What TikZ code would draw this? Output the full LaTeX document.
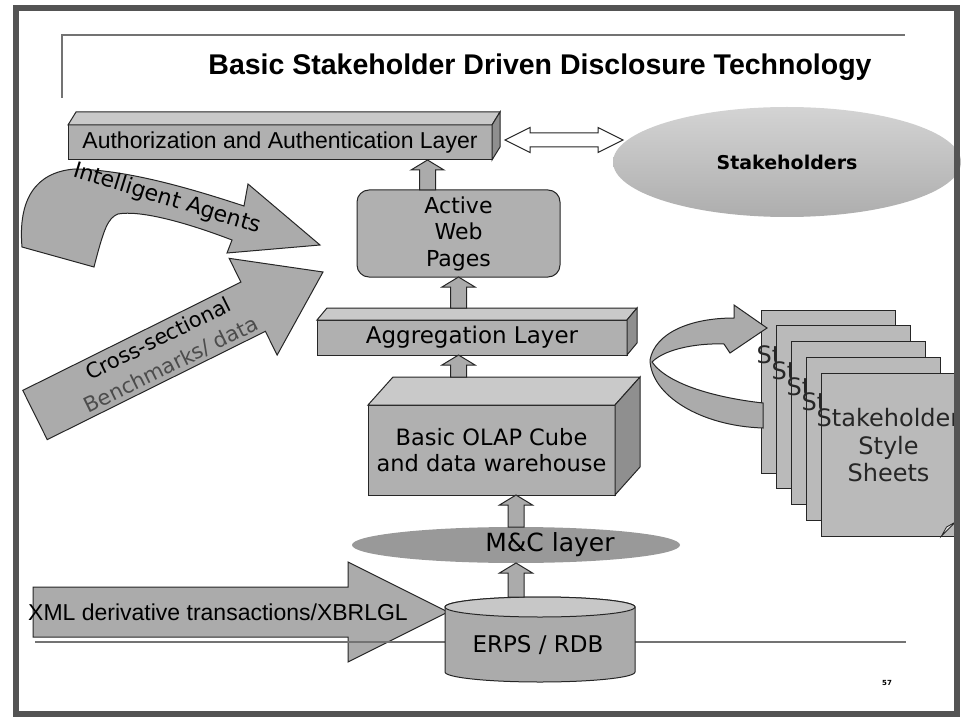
\documentclass[tikz,border=0pt]{standalone}
\usepackage{fontspec}
\setmainfont{DejaVu Sans}
\newfontfamily\arialfont{Liberation Sans}
\usetikzlibrary{calc,shapes.geometric}

\definecolor{boxgrey}{gray}{0.69}
\definecolor{topgrey}{gray}{0.79}
\definecolor{sidegrey}{gray}{0.56}
\definecolor{arrowgrey}{gray}{0.67}
\definecolor{sheetgrey}{gray}{0.73}
\definecolor{framegrey}{gray}{0.33}

% fat block arrow: [style]{tail}{tip}{half shaft}{half head}{head length}
\newcommand\fatarrow[6][fatarr]{%
  \coordinate (fa-t) at #2;
  \coordinate (fa-p) at #3;
  \coordinate (fa-h) at ($(fa-p)!#6!(fa-t)$);
  \filldraw[#1] ($(fa-t)!#4!90:(fa-p)$) -- ($(fa-h)!#4!-90:(fa-t)$)
    -- ($(fa-h)!#5!-90:(fa-t)$) -- (fa-p) -- ($(fa-h)!#5!90:(fa-t)$)
    -- ($(fa-h)!#4!90:(fa-t)$) -- ($(fa-t)!#4!-90:(fa-p)$) -- cycle;
}
% top and side faces of a box node
\newcommand\slabfaces[3]{%
  \filldraw[topface] (#1.north west) -- ++(#2,#3) -- ($(#1.north east)+(#2,#3)$) -- (#1.north east) -- cycle;
  \filldraw[sideface] (#1.north east) -- ++(#2,#3) -- ($(#1.south east)+(#2,#3)$) -- (#1.south east) -- cycle;
}

\begin{document}
\begin{tikzpicture}[x=1pt,y=-1pt,
every node/.style={outer sep=0pt},
slab/.style={draw=black!85,fill=boxgrey,line width=1pt,inner sep=0pt},
topface/.style={draw=black!85,fill=topgrey,line width=1pt},
sideface/.style={draw=black!85,fill=sidegrey,line width=1pt},
fatarr/.style={draw=black!85,fill=arrowgrey,line width=1pt},
dblarr/.style={draw=black!85,fill=white,line width=1pt},
awpbox/.style={draw=black!85,fill=boxgrey,line width=1pt,rounded corners=12pt,
  minimum width=203pt,minimum height=87pt,align=center,inner sep=0pt,
  font=\fontsize{22}{26.5}\selectfont},
stakeoval/.style={ellipse,minimum width=348pt,minimum height=110pt,inner sep=0pt,
  top color=black!17,bottom color=black!32,font=\bfseries\fontsize{19}{22}\selectfont},
mcoval/.style={ellipse,minimum width=328pt,minimum height=36pt,fill=black!40},
sheet/.style={draw=black!85,fill=sheetgrey,line width=1pt,minimum width=134pt,minimum height=163pt},
sheettext/.style={align=center,text=black!85,font=\fontsize{24}{27.5}\selectfont},
tmpl/.style={draw=black!55,line width=1.5pt}]

\useasboundingbox (0,0) rectangle (965,719);

% slide template lines
\draw[tmpl] (62,98) -- (62,35) -- (905,35);

\node[font=\arialfont\bfseries\fontsize{28.5}{31}\selectfont,anchor=base] (title) at (540,75)
  {Basic Stakeholder Driven Disclosure Technology};

% Intelligent agents
\filldraw[fatarr] (22,247) .. controls (18,200) and (35,172) .. (75,169)
  .. controls (130,170) and (195,190) .. (244,206) -- (248,184) -- (320,245)
  -- (227,253) -- (232,240) .. controls (185,222) and (140,210) .. (118,214)
  .. controls (108,218) and (104,228) .. (94,267) -- cycle;
\node[rotate=-17,font=\fontsize{22}{24}\selectfont] (iatext) at (167,199) {Intelligent Agents};

% cross-sectional benchmarks
\coordinate (cs-tail) at (35,415);
\coordinate (cs-tip) at (323,272);
\fatarrow{(cs-tail)}{(cs-tip)}{27.5pt}{54pt}{78pt}
\node[rotate=26.4,align=center,font=\fontsize{21}{29}\selectfont] (cstext) at (165,352)
  {Cross-sectional\\\textcolor{black!70}{Benchmarks/ data}};

% layers
\node[slab,minimum width=424pt,minimum height=35pt,
  font=\arialfont\fontsize{23}{26}\selectfont] (auth) at (280,142.5)
  {Authorization and Authentication Layer};
\slabfaces{auth}{8}{-13}

\node[stakeoval] (stake) at (787,162) {\raisebox{-5pt}{Stakeholders}};

\coordinate (d1) at ($(auth.east)+(13,-2.5)$);
\coordinate (d2) at ($(stake.west)+(10,-22)$);
\filldraw[dblarr] let \p1=(d1), \p2=(d2) in
  (\x1,\y1) -- (\x1+25pt,\y1+12.5pt) -- (\x1+25pt,\y1+7pt) -- (\x2-25pt,\y1+7pt)
  -- (\x2-25pt,\y1+12.5pt) -- (\x2,\y1) -- (\x2-25pt,\y1-12.5pt) -- (\x2-25pt,\y1-7pt)
  -- (\x1+25pt,\y1-7pt) -- (\x1+25pt,\y1-12.5pt) -- cycle;

\node[awpbox] (awp) at (458.5,233.5) {Active\\Web\\Pages};

\node[slab,minimum width=310pt,minimum height=35pt,
  font=\fontsize{23}{26}\selectfont] (agg) at (472,337.5) {Aggregation Layer};
\slabfaces{agg}{10}{-12}

\node[slab,minimum width=247pt,minimum height=90pt,align=center,
  font=\fontsize{22.5}{26}\selectfont] (olap) at (491.5,450)
  {Basic OLAP Cube\\and data warehouse};
\slabfaces{olap}{25}{-28}

\node[mcoval] (mc) at (516,545) {};
\node[font=\fontsize{25}{28}\selectfont] (mctext) at ($(mc.center)+(34,0)$) {M\&C layer};

% ERPS cylinder
\path node[minimum width=190pt,minimum height=65pt,inner sep=0pt] (erps) at (540,639.5) {};

% XML feed
\coordinate (xml-tail) at (33,612);
\coordinate (xml-tip) at ($(erps.north west)+(3,5)$);
\fatarrow{(xml-tail)}{(xml-tip)}{25pt}{50pt}{100pt}
\node[font=\arialfont\fontsize{23}{25}\selectfont] (xmltext) at (218,612)
  {XML derivative transactions/XBRLGL};

\draw[tmpl] (35,642) -- (906,642);

\filldraw[fatarr] (erps.north west) -- (erps.south west)
  arc[start angle=180,end angle=360,x radius=95pt,y radius=10pt] -- (erps.north east)
  arc[start angle=0,end angle=180,x radius=95pt,y radius=10pt] -- cycle;
\filldraw[fatarr,fill=black!22] (erps.north) ellipse[x radius=95pt,y radius=10pt];
\node[font=\fontsize{23}{26}\selectfont] (erpstext) at ($(erps.center)+(-2,5.5)$) {ERPS / RDB};

% up arrows between the layers
\coordinate (up1) at ($(awp.north)+(-31,0)$);
\fatarrow{(up1)}{(up1 |- auth.south)}{8pt}{16.5pt}{10pt}
\coordinate (up2) at ($(agg.north)+(0,-12)$);
\fatarrow{(awp.south |- up2)}{(awp.south)}{8pt}{16.5pt}{10pt}
\coordinate (up3) at ($(olap.north)+(0,-28)$);
\fatarrow{(awp.south |- up3)}{(awp.south |- agg.south)}{8pt}{16.5pt}{10pt}
\fatarrow{(mc.north)}{(mc.north |- olap.south)}{8pt}{16.5pt}{10pt}
\coordinate (up5) at ($(erps.north)+(0,-10)$);
\fatarrow{(mc.south |- up5)}{(mc.south)}{8pt}{16.5pt}{10pt}

% style sheets, only the front one shows its whole text
\foreach \i in {0,...,3}{
  \node[sheet] (sheet\i) at (828.5+15*\i,391.5+15.75*\i) {};
  \node[sheettext,anchor=west,inner sep=0pt] (sheettext\i) at ($(sheet\i.center)+(-72,-36.5)$) {St};
}
\node[sheet] (sheet4) at (888.5,454.5) {};
\begin{scope}
  \clip ($(sheet4.north west)+(-8,0)$) rectangle (sheet4.south east);
  \node[sheettext] (sheettext4) at ($(sheet4.center)+(0,-9)$) {Stakeholder\\Style\\Sheets};
\end{scope}
\filldraw[draw=black!85,fill=black!12,line width=0.8pt] ($(sheet4.south east)+(-14,0)$)
  -- ($(sheet4.south east)+(0,-14)$) -- ($(sheet4.south east)+(-9,-9)$) -- cycle;

\filldraw[fatarr] (763,403) .. controls (718,398) and (668,385) .. (652,362)
  .. controls (666,348) and (700,343) .. (724,344) -- (730,353) -- (767,328)
  -- (734,305) -- (734,318) .. controls (690,318) and (655,333) .. (650,360)
  .. controls (651,395) and (700,426) .. (763,428) -- cycle;

\node[font=\bfseries\fontsize{7}{8}\selectfont] (pagenum) at (887,683) {57};

% outer frame
\draw[framegrey,line width=6pt] (16,8) rectangle (957,714);
\end{tikzpicture}
\end{document}
